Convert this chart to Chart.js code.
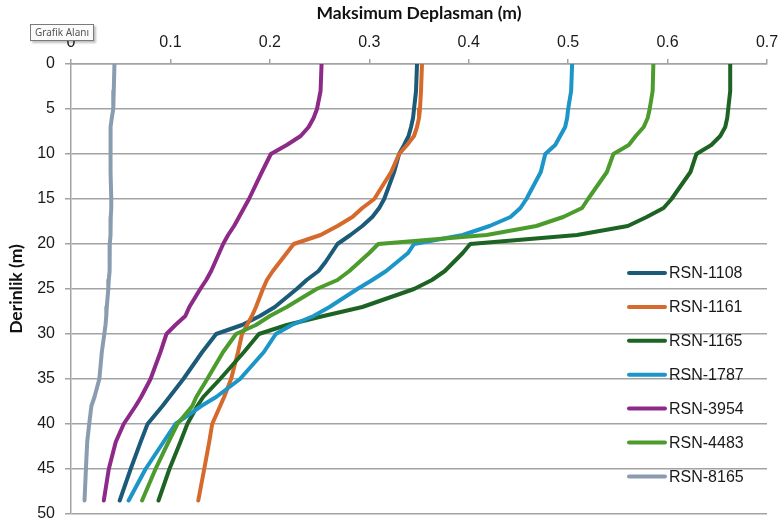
<!DOCTYPE html>
<html>
<head>
<meta charset="utf-8">
<script src="https://cdn.jsdelivr.net/npm/chart.js@4.4.1/dist/chart.umd.min.js"></script>
<style>
    html, body { margin: 0; padding: 0; background: #fff; }
    #wrap { position: relative; width: 782px; height: 519px; }
    #tip {
        position: absolute; left: 30px; top: 24px; width: 62px; height: 15px;
        border: 1px solid #7a7a7a; background: #fbfbfb; color: #555;
        font: 10px "Noto Sans", sans-serif; line-height: 15px; text-align: center;
        box-shadow: 2px 2px 2px rgba(0, 0, 0, 0.25);
    }
</style>
</head>
<body>
<div id="wrap">
    <canvas id="chart" width="782" height="519"></canvas>
    <div id="tip">Grafik Alanı</div>
</div>
<script>
// depth (m) shared by every record
const depths = [0, 3, 5, 6, 7, 8, 9, 10, 12, 15, 16, 17, 18, 19, 20, 21, 22, 23, 24, 25, 27, 28, 29, 30, 32, 35, 37, 38, 40, 42, 45, 48.5];

const rsn1108 = [0.348, 0.347, 0.345, 0.344, 0.342, 0.3395, 0.335, 0.330, 0.325, 0.315, 0.310, 0.303, 0.293, 0.281, 0.268, 0.262, 0.256, 0.249, 0.237, 0.227, 0.205, 0.190, 0.172, 0.146, 0.132, 0.113, 0.099, 0.092, 0.077, 0.070, 0.060, 0.049];
const rsn1161 = [0.353, 0.352, 0.351, 0.350, 0.348, 0.345, 0.338, 0.330, 0.322, 0.305, 0.293, 0.283, 0.268, 0.251, 0.224, 0.217, 0.210, 0.203, 0.197, 0.193, 0.186, 0.182, 0.177, 0.172, 0.168, 0.161, 0.154, 0.150, 0.142, 0.139, 0.134, 0.128];
const rsn1165 = [0.663, 0.663, 0.661, 0.660, 0.658, 0.653, 0.644, 0.629, 0.623, 0.604, 0.596, 0.579, 0.560, 0.509, 0.4015, 0.394, 0.385, 0.376, 0.363, 0.345, 0.293, 0.254, 0.217, 0.189, 0.174, 0.150, 0.133, 0.127, 0.117, 0.110, 0.099, 0.088];
const rsn1787 = [0.504, 0.503, 0.500, 0.499, 0.497, 0.492, 0.487, 0.477, 0.4725, 0.458, 0.452, 0.442, 0.421, 0.394, 0.345, 0.339, 0.328, 0.317, 0.303, 0.288, 0.260, 0.244, 0.222, 0.206, 0.194, 0.170, 0.146, 0.131, 0.105, 0.093, 0.075, 0.058];
const rsn3954 = [0.252, 0.251, 0.2474, 0.244, 0.239, 0.231, 0.217, 0.201, 0.192, 0.179, 0.174, 0.169, 0.164, 0.158, 0.153, 0.149, 0.145, 0.141, 0.136, 0.130, 0.119, 0.115, 0.105, 0.096, 0.090, 0.080, 0.0705, 0.065, 0.053, 0.045, 0.038, 0.033];
const rsn4483 = [0.5857, 0.585, 0.582, 0.580, 0.576, 0.568, 0.561, 0.5455, 0.539, 0.520, 0.514, 0.495, 0.468, 0.418, 0.309, 0.300, 0.290, 0.280, 0.268, 0.247, 0.217, 0.200, 0.186, 0.166, 0.153, 0.137, 0.126, 0.122, 0.107, 0.098, 0.085, 0.0715];
const rsn8165 = [0.0437, 0.043, 0.0425, 0.041, 0.0398, 0.0397, 0.0397, 0.0397, 0.040, 0.0405, 0.0405, 0.040, 0.040, 0.0395, 0.039, 0.039, 0.039, 0.0385, 0.038, 0.0375, 0.036, 0.0355, 0.0347, 0.0335, 0.031, 0.0285, 0.0236, 0.0205, 0.0183, 0.0163, 0.015, 0.0136];

const seriesNames = ['RSN-1108', 'RSN-1161', 'RSN-1165', 'RSN-1787', 'RSN-3954', 'RSN-4483', 'RSN-8165'];
const seriesValues = [rsn1108, rsn1161, rsn1165, rsn1787, rsn3954, rsn4483, rsn8165];
const seriesColors = ['#1c5a7a', '#d6692c', '#1d6424', '#1c95c8', '#8d2a88', '#4c9b2d', '#8a9cb0'];

const xTicks = [0, 0.1, 0.2, 0.3, 0.4, 0.5, 0.6, 0.7];
const yTicks = [0, 5, 10, 15, 20, 25, 30, 35, 40, 45, 50];

const GRID = '#a3a3a3';

// legend drawn inside the plot, right side
const insideLegend = {
    id: 'insideLegend',
    afterDatasetsDraw(chart) {
        const ctx = chart.ctx;
        const area = chart.chartArea;
        const x0 = area.right - 140;
        const y0 = area.top + 209;
        ctx.save();
        ctx.font = '16px "Liberation Sans", Arial, sans-serif';
        ctx.textBaseline = 'middle';
        ctx.textAlign = 'left';
        chart.data.datasets.forEach((ds, i) => {
            const y = y0 + i * 33.9;
            ctx.strokeStyle = ds.borderColor;
            ctx.lineWidth = 4;
            ctx.lineCap = 'round';
            ctx.beginPath();
            ctx.moveTo(x0 + 2, y);
            ctx.lineTo(x0 + 38, y);
            ctx.stroke();
            ctx.fillStyle = '#1a1a1a';
            ctx.fillText(ds.label, x0 + 42, y + 1);
        });
        ctx.restore();
    }
};

const datasets = seriesNames.map((name, i) => ({
    label: name,
    data: depths.map((d, j) => ({ x: seriesValues[i][j], y: d })),
    borderColor: seriesColors[i],
    backgroundColor: seriesColors[i],
    borderWidth: 4,
    borderCapStyle: 'round',
    borderJoinStyle: 'round',
    pointRadius: 0,
    tension: 0,
    fill: false,
    order: seriesNames.length - i
}));

new Chart(document.getElementById('chart'), {
    type: 'line',
    data: { datasets },
    options: {
        responsive: false,
        animation: false,
        indexAxis: 'y',
        layout: { padding: { top: 0, left: 0, right: 15, bottom: 5 } },
        plugins: {
            legend: { display: false },
            tooltip: { enabled: false }
        },
        scales: {
            x: {
                type: 'linear',
                position: 'top',
                min: 0,
                max: 0.7,
                afterFit: s => { s.height = 64; s.paddingLeft = 0; s.paddingRight = 0; },
                afterBuildTicks: s => { s.ticks = xTicks.map(v => ({ value: v })); },
                ticks: {
                    padding: 7,
                    color: '#1a1a1a',
                    font: { family: '"Liberation Sans", Arial, sans-serif', size: 16 },
                    callback: v => (v === 0 ? '0' : Number(v).toFixed(1))
                },
                grid: { drawOnChartArea: false, drawTicks: true, tickLength: 5, color: GRID, lineWidth: 1.5 },
                border: { color: GRID, width: 1.5 },
                title: {
                    display: true,
                    text: 'Maksimum Deplasman (m)',
                    color: '#111',
                    padding: { top: 3, bottom: 0 },
                    font: { family: 'Lato, "Liberation Sans", sans-serif', size: 17.5, weight: 'bold' }
                }
            },
            y: {
                type: 'linear',
                reverse: true,
                min: 0,
                max: 50,
                afterFit: s => { s.width = 71; s.paddingTop = 0; s.paddingBottom = 0; },
                afterBuildTicks: s => { s.ticks = yTicks.map(v => ({ value: v })); },
                ticks: {
                    padding: 10,
                    color: '#1a1a1a',
                    font: { family: '"Liberation Sans", Arial, sans-serif', size: 16 }
                },
                grid: { drawOnChartArea: true, drawTicks: true, tickLength: 6, color: GRID, lineWidth: 1.5 },
                border: { color: GRID, width: 1.5 },
                title: {
                    display: true,
                    text: 'Derinlik (m)',
                    color: '#111',
                    padding: { top: 6, bottom: 0 },
                    font: { family: 'Lato, "Liberation Sans", sans-serif', size: 17.5, weight: 'bold' }
                }
            }
        }
    },
    plugins: [insideLegend]
});
</script>
</body>
</html>
